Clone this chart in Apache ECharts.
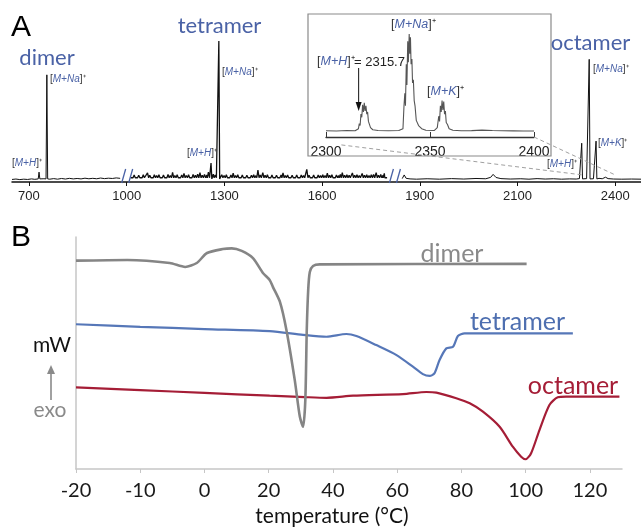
<!DOCTYPE html>
<html>
<head>
<meta charset="utf-8">
<script src="https://cdn.jsdelivr.net/npm/echarts@6.0.0/dist/echarts.min.js"></script>
<style>
  html, body { margin: 0; padding: 0; background: #fff; }
  #chart { width: 641px; height: 528px; }
</style>
</head>
<body>
<div id="chart"></div>
<script>
// ---------- panel A : mass spectrum ----------
// tick labels of the broken m/z axis (ticks are equally spaced)
const mzTicks = [700, 1000, 1300, 1600, 1900, 2100, 2400];
const mzBreaks = [1000, 1822];
const baseline = 2.2;

// thin trace left of the first break (m/z, intensity)
const spectrumLow = [[648,1.8],[660,2.1],[672,1.7],[684,2.0],[696,1.8],[708,2.2],[718,1.9],[724,2.3],
  [738,2.0],[746,2.3],[764,2.0],[776,2.4],[788,2.0],[800,2.5],[812,2.1],[824,2.6],[836,2.2],[848,2.5],
  [860,2.2],[872,2.7],[884,2.3],[896,2.6],[908,2.3],[920,2.8],[932,2.4],[944,2.7],[956,2.5],[968,2.9],[980,2.6]];

// noisy middle region, spike heights above the baseline
const noisePeaks = [[1016,2.0],[1023,2.8],[1030,1.7],[1037,2.6],[1044,2.0],[1051,3.0],[1058,2.2],[1064,4.2],
  [1071,2.6],[1078,2.0],[1085,3.0],[1092,2.3],[1099,2.9],[1106,1.9],[1113,2.7],[1120,2.1],[1127,3.1],[1134,2.4],
  [1141,4.6],[1148,2.3],[1155,2.9],[1162,2.0],[1169,2.8],[1176,3.9],[1183,2.4],[1190,3.0],[1197,2.2],[1204,3.1],
  [1211,2.5],[1218,3.4],[1225,4.4],[1232,2.6],[1239,3.2],[1246,2.7],[1251,4.8],[1266,3.4],[1272,2.8],[1292,3.0],
  [1299,2.4],[1306,2.9],[1313,2.1],[1320,2.7],[1327,4.0],[1334,2.3],[1341,2.9],[1348,2.0],[1355,2.7],[1362,2.2],
  [1369,2.6],[1376,1.9],[1383,2.5],[1390,3.0],[1397,2.3],[1403,6.2],[1410,2.8],[1418,4.4],[1425,2.5],[1432,2.9],
  [1439,2.2],[1446,2.7],[1453,2.0],[1460,2.6],[1467,2.1],[1474,2.8],[1480,4.2],[1487,2.3],[1494,2.7],[1501,2.0],
  [1508,2.6],[1515,2.2],[1522,2.8],[1529,2.1],[1536,2.7],[1543,2.3],[1553,6.8],[1560,2.5],[1567,2.1],[1574,2.7],
  [1581,2.2],[1588,2.8],[1595,2.3],[1602,3.0],[1609,2.4],[1616,4.0],[1623,2.5],[1630,2.9],[1637,2.2],[1644,2.8],
  [1651,2.4],[1656,3.2],[1662,4.4],[1669,2.6],[1676,3.0],[1683,2.5],[1693,4.2],[1700,2.6],[1707,3.0],[1714,2.4],
  [1723,3.9],[1730,2.5],[1737,3.0],[1744,2.3],[1751,2.9],[1758,3.2],[1766,4.4],[1773,2.6],[1780,3.1],[1787,2.6],
  [1791,3.9],[1796,2.2]];
const noiseFloor = 3.0;

// thin trace right of the second break (m/z, intensity)
const spectrumHigh = [[1846,2.4],[1852,5.0],[1858,2.6],[1870,2.2],[1890,2.0],[1915,2.3],[1940,2.0],[1965,2.4],
  [1990,2.1],[2015,2.5],[2035,2.3],[2045,3.3],[2050,5.4],[2056,3.2],[2066,2.4],[2085,2.1],[2110,2.3],[2135,2.0],
  [2160,2.4],[2185,2.1],[2210,2.3],[2235,2.0],[2260,2.2],[2280,2.1],[2290,2.4],[2305,2.6],[2312,2.4],[2328,2.5],
  [2333,2.3],[2350,2.6],[2360,2.3],[2370,3.4],[2378,2.4],[2395,2.1],[2420,2.0],[2450,2.1],[2479,2.0]];

// main ions (m/z, intensity)
const bigPeaks = [[731,7],[755,76],[1259,13.5],[1283,100],[2297,27.5],[2320,87],[2341,29]];

// inset: octamer region (m/z, intensity)
const insetTrace = [[2300,6.0],[2305,5.8],[2310,6.2],[2314,6.0],[2315.6,8],[2316.0,13],[2316.4,11],[2316.8,22],
  [2317.2,19],[2317.6,31],[2318.0,24],[2318.4,33],[2318.8,25],[2319.2,30],[2319.6,22],[2320.0,24],[2320.4,15],
  [2320.8,16],[2321.4,9],[2322.5,7],[2325,6.2],[2330,6.0],[2335,6.3],[2337.0,8],[2337.5,30],[2337.9,42],
  [2338.2,30],[2338.6,70],[2338.9,50],[2339.3,92],[2339.6,72],[2340.0,99],[2340.3,80],[2340.6,96],[2340.9,70],
  [2341.3,75],[2341.6,52],[2342.0,55],[2342.4,35],[2342.8,30],[2343.4,16],[2344.5,11],[2346,8],[2348,6.5],
  [2352,6.2],[2353.5,9],[2354.2,20],[2354.6,15],[2355.0,30],[2355.4,24],[2355.8,35],[2356.2,26],[2356.6,34],
  [2357.0,22],[2357.4,25],[2357.8,14],[2358.4,12],[2359.2,8],[2361,6.5],[2365,6.0],[2370,6.1],[2375,6.6],
  [2380,6.2],[2385,6.0],[2390,5.9],[2395,5.8],[2400,5.8]];
const insetTicks = [2300, 2350, 2400];
const mhValue = 2315.7;

// ---------- panel B : DSC ----------
const tempTicks = [-20, -10, 0, 20, 40, 60, 80, 100, 120];
const dimerT = [-20,-12,-5.4,-3,-1.2,0.8,5.7,8.5,11.6,15.1,18.2,20.3,21.3,23.5,25.5,28.1,29.7,30.7,31.4,31.85,32.3,32.8,33.8,35.9,100.3];
const dimerV = [8.98,9.01,8.88,8.71,8.88,9.31,9.48,9.51,9.40,9.09,8.45,8.15,7.85,7.2,6.0,3.84,2.25,1.82,2.97,5.99,7.72,8.49,8.75,8.82,8.84];
const tetraT = [-20,-10,0,20.3,30.7,38.0,44.2,47.3,53.5,59.8,64.9,68.0,70.1,71.6,73.2,75.3,77.4,78.9,81.0,114.7];
const tetraV = [6.24,6.13,6.03,5.94,5.78,5.70,5.82,5.73,5.34,4.91,4.41,4.09,4.01,4.12,4.70,5.20,5.27,5.73,5.85,5.85];
const octaT = [-20,-10,0,20.3,31.2,38.0,46.3,61.8,69.1,72.2,78.4,82.6,86.7,91.9,96.0,98.6,100,101.7,104.3,107.4,110.0,112.6,129.2];
const octaV = [3.52,3.40,3.28,3.16,3.10,3.07,3.16,3.23,3.32,3.29,3.05,2.83,2.47,1.82,0.96,0.53,0.42,0.68,1.68,2.76,3.09,3.12,3.12];

// piecewise scale for axes whose labelled ticks are evenly spaced
function toTickAxis(ticks, v) {
  const n = ticks.length;
  if (v <= ticks[0]) return (v - ticks[0]) / (ticks[1] - ticks[0]);
  for (let i = 1; i < n; i++) {
    if (v <= ticks[i] || i === n - 1) return i - 1 + (v - ticks[i - 1]) / (ticks[i] - ticks[i - 1]);
  }
}
const mzAx = v => toTickAxis(mzTicks, v);
const tAx = v => toTickAxis(tempTicks, v);

// each peak drawn as a narrow stick from the floor up to its top
function sticks(list, w, offset, floor) {
  const pts = [];
  list.forEach(([mz, h]) => {
    pts.push([mz - w, floor], [mz, offset + h], [mz + w, floor]);
  });
  return pts;
}
function segment(trace, lo, hi) {
  const pts = trace.concat(sticks(bigPeaks.filter(p => p[0] > lo && p[0] < hi), 2.5, 0, baseline));
  pts.sort((a, b) => a[0] - b[0]);
  return pts.map(p => [mzAx(p[0]), p[1]]);
}
const seg1 = segment(spectrumLow, 640, mzBreaks[0]);
const seg2 = segment(sticks(noisePeaks, 3.5, baseline, noiseFloor), mzBreaks[0], mzBreaks[1]);
const seg3 = segment(spectrumHigh, mzBreaks[1], 2500);

const BLUE = '#4a62a6';
const SANS = '"Liberation Sans", Arial, sans-serif';
const MYR = 'Lato, "Open Sans", sans-serif';

const specLine = (data, w) => ({
  type: 'line', xAxisIndex: 0, yAxisIndex: 0, data: data, showSymbol: false,
  lineStyle: { color: '#111', width: w }, silent: true
});
const dscLine = (T, V, color, w) => ({
  type: 'line', xAxisIndex: 2, yAxisIndex: 2, showSymbol: false, smooth: 0.25,
  data: T.map((t, i) => [tAx(t), V[i]]),
  lineStyle: { color: color, width: w }, silent: true
});

const chart = echarts.init(document.getElementById('chart'));
chart.setOption({
  animation: false,
  backgroundColor: '#fff',
  grid: [
    { left: 12, right: 0, top: 41, bottom: 346 },
    { left: 326, right: 107, top: 33, bottom: 391 },
    { left: 76, right: 19, top: 237, bottom: 59 }
  ],
  xAxis: [
    {
      gridIndex: 0, type: 'value', min: mzAx(648), max: mzAx(2479),
      axisLine: { lineStyle: { color: '#111', width: 1.5 } },
      axisTick: { customValues: mzTicks.map((_, i) => i), length: 4, lineStyle: { color: '#111' } },
      axisLabel: { customValues: mzTicks.map((_, i) => i), formatter: v => String(mzTicks[Math.round(v)]),
        fontFamily: SANS, fontSize: 13, color: '#222', margin: 8 },
      splitLine: { show: false }
    },
    {
      gridIndex: 1, type: 'value', min: 2300, max: 2400, interval: 50,
      axisLine: { lineStyle: { color: '#333', width: 1.3 } },
      axisTick: { inside: true, length: 5, lineStyle: { color: '#333' } },
      axisLabel: { formatter: v => String(v), fontFamily: SANS, fontSize: 14, color: '#222', margin: 8 },
      splitLine: { show: false }
    },
    {
      gridIndex: 2, type: 'value', min: 0, max: tAx(130),
      axisLine: { lineStyle: { color: '#c6c6c6', width: 1.5 } },
      axisTick: { customValues: tempTicks.map((_, i) => i), length: 4, lineStyle: { color: '#c6c6c6' } },
      axisLabel: { customValues: tempTicks.map((_, i) => i), formatter: v => String(tempTicks[Math.round(v)]),
        fontFamily: MYR, fontSize: 20, color: '#1a1a1a', margin: 12 },
      splitLine: { show: false }
    }
  ],
  yAxis: [
    { gridIndex: 0, type: 'value', min: 0, max: 100, show: false },
    { gridIndex: 1, type: 'value', min: 0, max: 100, show: false },
    {
      gridIndex: 2, type: 'value', min: 0, max: 10,
      axisLine: { show: true, lineStyle: { color: '#c6c6c6', width: 1.5 } },
      axisTick: { show: false }, axisLabel: { show: false }, splitLine: { show: false }
    }
  ],
  series: [
    specLine(seg1, 1), specLine(seg2, 1.3), specLine(seg3, 1),
    {
      type: 'line', xAxisIndex: 1, yAxisIndex: 1, data: insetTrace, showSymbol: false,
      lineStyle: { color: '#555', width: 1.1 }, silent: true
    },
    dscLine(octaT, octaV, '#a51d36', 2.2),
    dscLine(tetraT, tetraV, '#5677b8', 2.2),
    dscLine(dimerT, dimerV, '#858585', 2.6)
  ]
});

// ---------- annotations ----------
const px = (g, p) => chart.convertToPixel({ gridIndex: g }, p);

function ion(x, y, name, size) {
  return {
    type: 'text', x: x, y: y, z: 10,
    style: {
      text: '{k|[}{b|' + name + '}{k|]⁺}', align: 'left', verticalAlign: 'middle',
      textAlign: 'left', textVerticalAlign: 'middle',
      rich: {
        k: { fill: '#333', fontSize: size, fontFamily: SANS },
        b: { fill: BLUE, fontSize: size, fontFamily: SANS, fontStyle: 'italic' }
      }
    }
  };
}
function label(text, x, y, size, color, family, align) {
  return {
    type: 'text', x: x, y: y, z: 10,
    style: { text: text, fill: color, font: size + 'px ' + (family || MYR),
      align: align || 'center', verticalAlign: 'middle',
      textAlign: align || 'center', textVerticalAlign: 'middle' }
  };
}
function segLine(a, b, color, w, dash) {
  return { type: 'line', z: 5, shape: { x1: a[0], y1: a[1], x2: b[0], y2: b[1] },
    style: { stroke: color, lineWidth: w, lineDash: dash || null } };
}

const g = [];
// axis break marks
mzBreaks.forEach(m => {
  const p = px(0, [mzAx(m), 0]);
  g.push(segLine([p[0] - 5, p[1] + 1], [p[0] - 1, p[1] - 13], BLUE, 1.3));
  g.push(segLine([p[0] + 2, p[1] + 1], [p[0] + 6, p[1] - 13], BLUE, 1.3));
});
// inset frame and zoom guides
g.push({ type: 'rect', z: 4, shape: { x: 308, y: 14, width: 243, height: 142 },
  style: { fill: null, stroke: '#8a8a8a', lineWidth: 1.2 } });
const i0 = px(1, [insetTicks[0], 0]), i1 = px(1, [insetTicks[2], 0]);
const m0 = px(0, [mzAx(insetTicks[0]), 5]), m1 = px(0, [mzAx(insetTicks[2]), 5]);
const tStart = 0.06;
g.push(segLine([i0[0] + (m0[0] - i0[0]) * tStart, i0[1] + 6 + (m0[1] - i0[1] - 6) * tStart], m0, '#a0a0a0', 1, [4, 3]));
g.push(segLine(i1, m1, '#a0a0a0', 1, [4, 3]));
// arrow to [M+H]+
const ax = px(1, [mhValue, 0])[0];
g.push(segLine([ax, 68], [ax, 104], '#111', 1));
g.push({ type: 'polygon', z: 5, shape: { points: [[ax - 3, 102], [ax + 3, 102], [ax, 111]] }, style: { fill: '#111' } });

// panel A text
g.push(label('A', 11, 28, 30, '#000', SANS, 'left'));
g.push(label('dimer', 47, 58, 22, BLUE));
g.push(label('tetramer', 219.5, 26, 22, BLUE));
g.push(label('octamer', 590.5, 43, 22, BLUE));
g.push(ion(50, 79, 'M+Na', 10));
g.push(ion(12, 163, 'M+H', 10));
g.push(ion(222, 72, 'M+Na', 10));
g.push(ion(187, 153, 'M+H', 10));
g.push(ion(593, 69, 'M+Na', 10));
g.push(ion(598, 143, 'M+K', 10));
g.push(ion(547, 164, 'M+H', 10));
g.push(ion(391, 25, 'M+Na', 12.5));
g.push(ion(427, 92, 'M+K', 12.5));
g.push(ion(317, 62, 'M+H', 12.5));
g.push(label('= ' + mhValue, 354, 62, 13, '#222', SANS, 'left'));

// panel B text
g.push(label('B', 11, 238, 30, '#000', SANS, 'left'));
g.push(label('dimer', 452, 254, 25, '#8a8a8a'));
g.push(label('tetramer', 517.5, 322, 25, '#4e6fb0'));
g.push(label('octamer', 573, 386, 25, '#a51d36'));
g.push(label('mW', 52, 345, 21, '#111'));
g.push(label('exo', 50, 410, 21, '#8a8a8a'));
g.push(segLine([51, 400], [51, 372], '#8a8a8a', 1.6));
g.push({ type: 'polygon', z: 5, shape: { points: [[47, 374], [55, 374], [51, 365]] }, style: { fill: '#8a8a8a' } });
g.push(label('temperature (°C)', 332, 516, 21, '#111'));

chart.setOption({ graphic: g });
</script>
</body>
</html>
